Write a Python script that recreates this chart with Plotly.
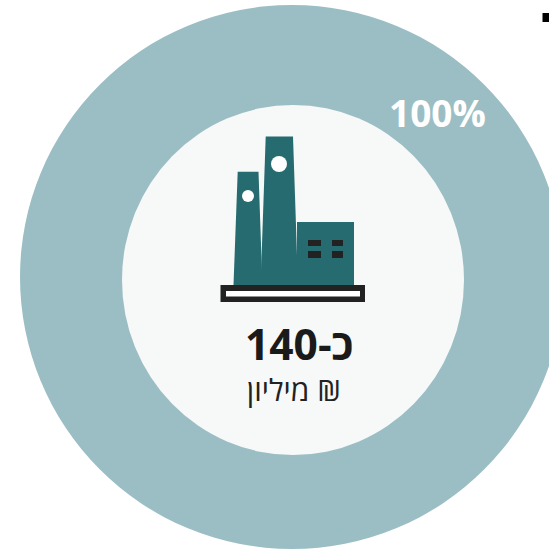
import plotly.graph_objects as go

FIG_W, FIG_H = 570, 549

# Values shown in the chart
segment_labels = ["מפעלים"]
segment_shares = [100]
share_label = "100%"
amount_label = "כ-140"
unit_label = "מיליון ₪"

RING = "#9bbec4"
DISC = "#f7f9f9"
TEAL = "#266b70"
INK = "#222222"


def px(x):
    return x / FIG_W


def py(y):
    return 1 - y / FIG_H


def rect(x0, y0, x1, y1, color):
    return dict(type="rect", xref="paper", yref="paper", layer="above",
                x0=px(x0), x1=px(x1), y0=py(y0), y1=py(y1),
                fillcolor=color, line_width=0)


def ellipse(cx, cy, rx, ry, color):
    return dict(type="circle", xref="paper", yref="paper", layer="above",
                x0=px(cx - rx), x1=px(cx + rx), y0=py(cy - ry), y1=py(cy + ry),
                fillcolor=color, line_width=0)


def polygon(points, color):
    d = "M " + " L ".join(f"{px(x):.5f},{py(y):.5f}" for x, y in points) + " Z"
    return dict(type="path", xref="paper", yref="paper", layer="above",
                path=d, fillcolor=color, line_width=0)


fig = go.Figure(go.Pie(
    labels=segment_labels,
    values=segment_shares,
    hole=0.6,
    sort=False,
    textinfo="none",
    hoverinfo="skip",
    marker=dict(colors=[RING], line=dict(width=0)),
    domain=dict(x=[20 / FIG_W, 564 / FIG_W], y=[0, 544 / FIG_H]),
))

shapes = [
    # centre disc
    ellipse(293, 280, 171, 175, DISC),
    # factory: chimneys and hall
    polygon([(237.7, 171.7), (258.5, 171.7), (262.4, 285), (233.5, 285)], TEAL),
    polygon([(265.7, 136.5), (293, 136.5), (298, 285), (260.6, 285)], TEAL),
    rect(297, 222, 354, 285, TEAL),
    ellipse(248, 196, 6, 6, "#ffffff"),
    ellipse(279, 164, 8, 8, "#ffffff"),
    # hall windows
    rect(308, 240, 321, 246, INK),
    rect(332, 240, 343, 246, INK),
    rect(308, 251, 321, 258, INK),
    rect(332, 251, 343, 258, INK),
    # base plate
    rect(220.5, 285, 365, 302, INK),
    rect(226, 291, 360, 296.5, "#ffffff"),
    # marker at the top edge
    rect(542.5, 13, 549, 22, "#000000"),
]

# Amount and unit share one text block so the two lines keep a fixed spacing;
# the small no-break spaces nudge each line sideways within the block
centre_text = (
    "<span style='font-size:23px'>\u00a0</span>"
    f"<b><span style='font-size:42.5px;color:#1a1a1a'>{amount_label}</span></b>"
    f"<br><span style='font-size:30px;color:#222222'>{unit_label}</span>"
    "<span style='font-size:19px'>\u00a0</span>"
)

annotations = [
    dict(text=f"<b>{share_label}</b>", xref="paper", yref="paper",
         x=px(437), y=py(113), xanchor="center", yanchor="middle", showarrow=False,
         font=dict(size=37, color="#ffffff", family="Open Sans")),
    dict(text=centre_text, xref="paper", yref="paper",
         x=px(296), y=py(362.5), xanchor="center", yanchor="middle", showarrow=False,
         font=dict(size=31.5, color="#222222", family="Open Sans")),
]

fig.update_layout(
    width=FIG_W, height=FIG_H, autosize=False,
    margin=dict(l=0, r=0, t=0, b=0),
    paper_bgcolor="#ffffff",
    showlegend=False,
    shapes=shapes,
    annotations=annotations,
)

fig.write_html("out.html", config=dict(displayModeBar=False),
               post_script="document.documentElement.style.overflow='hidden';document.body.style.overflow='hidden';")
